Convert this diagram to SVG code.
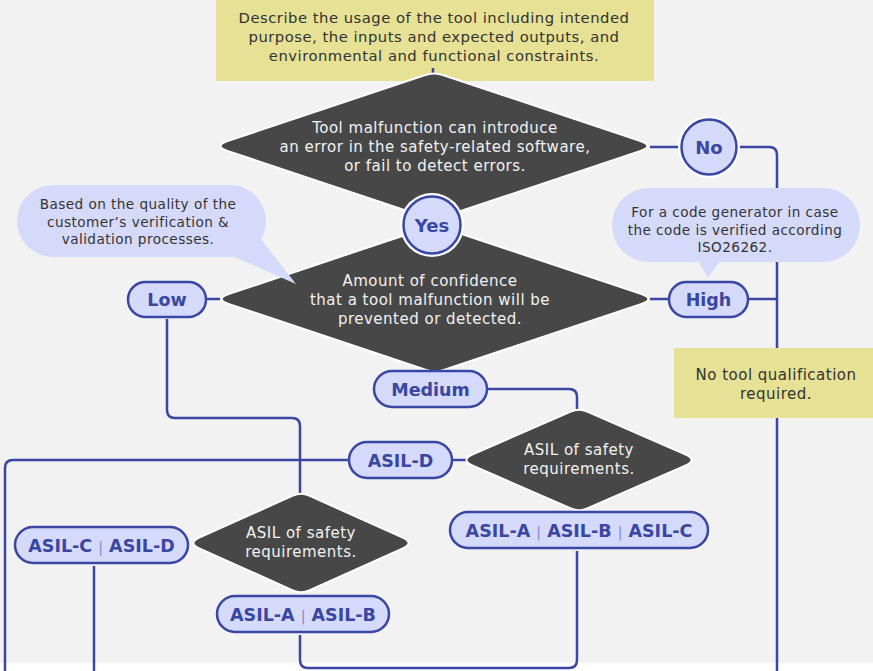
<svg xmlns="http://www.w3.org/2000/svg" width="873" height="671" viewBox="0 0 873 671">
<defs>
<style>
.bg{fill:#f2f2f2}
.note{fill:#e6e194}
.bub{fill:#d5dafb}
.dia{fill:#474747;stroke:#ffffff;stroke-width:2}
.pill{fill:#d5dafb;stroke:#3946a2;stroke-width:2.5}
.halo{fill:#ffffff}
.con{fill:none;stroke:#3946a2;stroke-width:2.5;stroke-linecap:butt}
.t{font-family:"DejaVu Sans","Liberation Sans",sans-serif;font-size:15px;letter-spacing:0.5px;fill:#333333;text-anchor:middle}
.tw{font-family:"DejaVu Sans","Liberation Sans",sans-serif;font-size:15px;letter-spacing:0.5px;fill:#f2f2f2;text-anchor:middle}
.ts{font-family:"DejaVu Sans","Liberation Sans",sans-serif;font-size:13.6px;letter-spacing:0.45px;fill:#333333;text-anchor:middle}
.tp{font-family:"DejaVu Sans","Liberation Sans",sans-serif;font-size:17.5px;font-weight:bold;fill:#3946a2;text-anchor:middle}
.sep{font-weight:normal;font-size:14px;fill:#8088c4}
</style>
</defs>
<rect class="bg" x="0" y="0" width="873" height="671"/>
<rect x="0" y="663" width="873" height="8" fill="#ffffff"/>

<g id="connectors">
<path class="con" d="M650 147 H684"/>
<path class="con" d="M736 147 H769 Q777 147 777 155 V671"/>
<path class="con" d="M650 299 H671"/>
<path class="con" d="M746 299 H777"/>
<path class="con" d="M204 299 H220"/>
<path class="con" d="M167 319 V410 Q167 418 175 418 H292 Q300 418 300 426 V496"/>
<path class="con" d="M485 389 H569 Q577 389 577 397 V412"/>
<path class="con" d="M450 460 H466"/>
<path class="con" d="M351 460 H13 Q5 460 5 468 V671"/>
<path class="con" d="M94 566 V671"/>
<path class="con" d="M300 635 V660 Q300 668 308 668 H569 Q577 668 577 660 V551"/>
</g>

<g id="top-box">
<rect class="note" x="216" y="0" width="438" height="81"/>
<text class="t" x="434" y="23" style="font-size:14.8px">Describe the usage of the tool including intended</text>
<text class="t" x="434" y="42" style="font-size:14.8px">purpose, the inputs and expected outputs, and</text>
<text class="t" x="434" y="61" style="font-size:14.8px">environmental and functional constraints.</text>
</g>
<path class="con" d="M433 68 V80"/>

<g id="decision-malfunction">
<path class="dia" d="M228.2 140.9 L424.5 75.2 Q434 72 443.5 75.2 L639.8 140.9 Q655 146 639.8 151.1 L443.5 216.8 Q434 220 424.5 216.8 L228.2 151.1 Q213 146 228.2 140.9 Z"/>
<text class="tw" x="435" y="133">Tool malfunction can introduce</text>
<text class="tw" x="435" y="152">an error in the safety-related software,</text>
<text class="tw" x="435" y="171">or fail to detect errors.</text>
</g>

<g id="decision-confidence">
<path class="dia" d="M229.2 293.9 L425.5 228.2 Q435 225 444.5 228.2 L640.8 293.9 Q656 299 640.8 304.1 L444.5 369.8 Q435 373 425.5 369.8 L229.2 304.1 Q214 299 229.2 293.9 Z"/>
<text class="tw" x="430" y="286">Amount of confidence</text>
<text class="tw" x="430" y="305">that a tool malfunction will be</text>
<text class="tw" x="430" y="324">prevented or detected.</text>
</g>

<g id="no">
<circle class="halo" cx="709" cy="147" r="31"/>
<circle class="pill" cx="709" cy="147" r="27.5"/>
<text class="tp" x="709" y="154" style="font-size:18px">No</text>
</g>

<g id="yes">
<circle class="halo" cx="432" cy="225" r="32"/>
<circle class="pill" cx="432" cy="225" r="28.5"/>
<text class="tp" x="432" y="232" style="font-size:18px">Yes</text>
</g>

<g id="callout-quality">
<rect class="bub" x="17" y="185" width="249" height="72" rx="36"/>
<polygon class="bub" points="228,254 296,284 260,238"/>
<text class="ts" x="138" y="209">Based on the quality of the</text>
<text class="ts" x="138" y="227">customer’s verification &amp;</text>
<text class="ts" x="138" y="244">validation processes.</text>
</g>

<g id="callout-generator">
<rect class="bub" x="612" y="188" width="248" height="74" rx="37"/>
<polygon class="bub" points="696,258 708,278 722,258"/>
<text class="ts" x="735" y="217">For a code generator in case</text>
<text class="ts" x="735" y="234.5">the code is verified according</text>
<text class="ts" x="735" y="252">ISO26262.</text>
</g>

<g id="low">
<rect class="pill" x="128" y="282" width="78" height="35" rx="17.5"/>
<text class="tp" x="167" y="306">Low</text>
</g>

<g id="high">
<rect class="pill" x="669" y="282" width="79" height="35" rx="17.5"/>
<text class="tp" x="708.5" y="306">High</text>
</g>

<g id="no-qualification">
<rect class="note" x="674" y="348" width="199" height="70"/>
<text class="t" x="776" y="380">No tool qualification</text>
<text class="t" x="776" y="399">required.</text>
</g>

<g id="medium">
<rect class="pill" x="374" y="371" width="113" height="36" rx="18"/>
<text class="tp" x="430.5" y="395.5">Medium</text>
</g>

<g id="decision-asil-right">
<path class="dia" d="M472.8 454.4 L570.8 411.6 Q579 408 587.2 411.6 L685.2 454.4 Q698 460 685.2 465.6 L587.2 508.4 Q579 512 570.8 508.4 L472.8 465.6 Q460 460 472.8 454.4 Z"/>
<text class="tw" x="579" y="455">ASIL of safety</text>
<text class="tw" x="579" y="474">requirements.</text>
</g>

<g id="asil-d">
<rect class="pill" x="349" y="442" width="103" height="36" rx="18"/>
<text class="tp" x="400.5" y="466.5">ASIL-D</text>
</g>

<g id="asil-abc">
<rect class="pill" x="450" y="512" width="258" height="36" rx="18"/>
<text class="tp" x="579" y="536.5">ASIL-A <tspan class="sep">|</tspan> ASIL-B <tspan class="sep">|</tspan> ASIL-C</text>
</g>

<g id="decision-asil-left">
<path class="dia" d="M199.8 537.3 L292.8 495.7 Q301 492 309.2 495.7 L402.2 537.3 Q415 543 402.2 548.7 L309.2 590.3 Q301 594 292.8 590.3 L199.8 548.7 Q187 543 199.8 537.3 Z"/>
<text class="tw" x="301" y="538">ASIL of safety</text>
<text class="tw" x="301" y="557">requirements.</text>
</g>

<g id="asil-cd">
<rect class="pill" x="15" y="527" width="173" height="36" rx="18"/>
<text class="tp" x="101.5" y="551.5">ASIL-C <tspan class="sep">|</tspan> ASIL-D</text>
</g>

<g id="asil-ab">
<rect class="pill" x="217" y="596" width="172" height="36" rx="18"/>
<text class="tp" x="303" y="620.5">ASIL-A <tspan class="sep">|</tspan> ASIL-B</text>
</g>
</svg>
